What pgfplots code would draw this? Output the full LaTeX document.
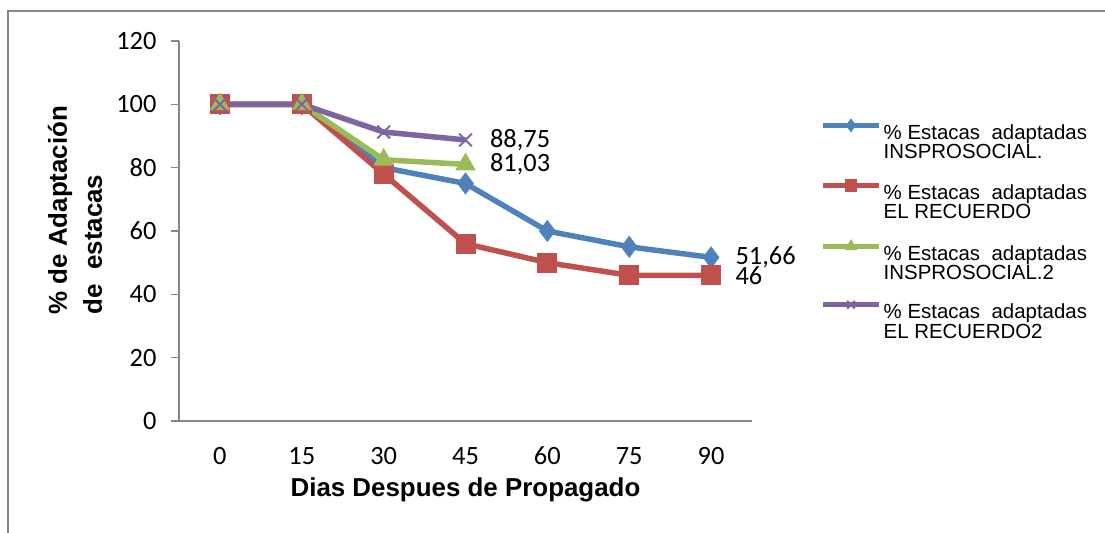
\documentclass[border=0pt]{standalone}
\usepackage{pgfplots}
\pgfplotsset{compat=1.18}
\usepackage{fontspec}
\setmainfont{Liberation Sans}
\newfontfamily\calibri{Carlito}
\definecolor{cblue}{HTML}{4F81BD}
\definecolor{cred}{HTML}{C0504D}
\definecolor{cgreen}{HTML}{9BBB59}
\definecolor{cpurple}{HTML}{8064A2}
\definecolor{axgray}{HTML}{868686}
\begin{document}
\begin{tikzpicture}[x=1bp,y=1bp]
\path[use as bounding box] (0,0) rectangle (1105,533);
\draw[axgray, line width=1.2bp] (8,0) -- (8,522) -- (1105,522);
\begin{axis}[
  at={(179bp,112bp)}, anchor=south west,
  scale only axis, width=573bp, height=380bp,
  xmin=-0.5, xmax=6.5, ymin=0, ymax=120,
  axis x line*=bottom, axis y line*=left,
  axis line style={draw=axgray, line width=1.2bp},
  xtick={0,...,6}, xticklabels={0,15,30,45,60,75,90},
  x tick style={draw=none},
  ytick={0,20,...,120},
  y tick style={draw=axgray, line width=1.2bp},
  tick align=outside, major tick length=8bp,
  /pgf/number format/assume math mode=true,
  tick label style={font=\calibri\fontsize{26.5}{30}\selectfont},
  yticklabel style={xshift=-11bp},
  xticklabel style={yshift=-15bp, text height=17bp, text depth=0bp},
  xlabel={Dias Despues de Propagado},
  xlabel style={font=\bfseries\fontsize{26}{30}\selectfont, at={(axis description cs:0.5,-0.18)}, anchor=center},
  ylabel={\% de Adaptación\\de\hspace{0.28em} estacas},
  ylabel style={font=\bfseries\fontsize{26}{35}\selectfont, align=left, at={(axis description cs:-0.1815,0.555)}, anchor=center},
  legend image code/.code={\draw[mark repeat=2,mark phase=2,#1,every mark/.append style={scale=0.6}] plot coordinates {(0bp,17bp) (28bp,17bp) (56bp,17bp)};},
  legend style={at={(rel axis cs:1.1187,0.795)}, anchor=north west, draw=none, fill=none,
    inner sep=0pt, font=\fontsize{20.5}{18}\selectfont, row sep=19.5bp,
    nodes={inner sep=0pt}, column sep=2bp},
  legend cell align=left,
  legend style={cells={align=left}},
  every node near coord/.append style={font=\calibri\fontsize{26.5}{30}\selectfont, anchor=west, xshift=21bp, text=black},
]
\addplot[cblue, line width=5.5bp, mark=diamond*, mark size=10.5bp, mark options={line width=0.8bp}]
  coordinates {(0,100) (1,100) (2,80) (3,75) (4,60) (5,55) (6,51.66)};
\addlegendentry{\% Estacas\hspace{0.28em} adaptadas\\INSPROSOCIAL.}
\addplot[cred, line width=5.5bp, mark=square*, mark size=9.5bp, mark options={line width=0.8bp}]
  coordinates {(0,100) (1,100) (2,78) (3,56) (4,50) (5,46) (6,46)};
\addlegendentry{\% Estacas\hspace{0.28em} adaptadas\\EL RECUERDO}
\addplot[cgreen, line width=5.5bp, mark=triangle*, mark size=11bp, mark options={line width=0.8bp}]
  coordinates {(0,100) (1,100) (2,82.5) (3,81.03)};
\addlegendentry{\% Estacas\hspace{0.28em} adaptadas\\INSPROSOCIAL.2}
\addplot[cpurple, line width=5.5bp, mark=x, mark size=9bp, mark options={line width=2bp}]
  coordinates {(0,100) (1,100) (2,91.25) (3,88.75)};
\addlegendentry{\% Estacas\hspace{0.28em} adaptadas\\EL RECUERDO2}
\addplot[draw=none, forget plot, nodes near coords={{88,75}}] coordinates {(3,88.75)};
\addplot[draw=none, forget plot, nodes near coords={{81,03}}] coordinates {(3,81.03)};
\addplot[draw=none, forget plot, nodes near coords={{51,66}}] coordinates {(6,51.66)};
\addplot[draw=none, forget plot, nodes near coords={46}] coordinates {(6,46)};
\end{axis}
\end{tikzpicture}
\end{document}
